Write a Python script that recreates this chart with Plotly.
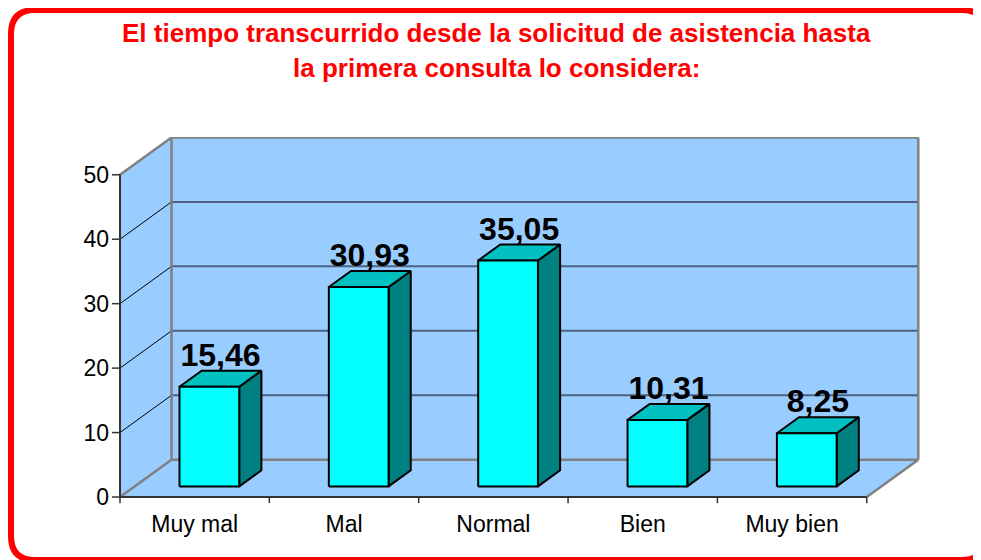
import plotly.graph_objects as go

# ---------------- data ----------------
categories = ["Muy mal", "Mal", "Normal", "Bien", "Muy bien"]
values = [15.46, 30.93, 35.05, 10.31, 8.25]
value_labels = ["15,46", "30,93", "35,05", "10,31", "8,25"]
y_ticks = [0, 10, 20, 30, 40, 50]
y_top = 50
title_lines = ["El tiempo transcurrido desde la solicitud de asistencia hasta",
               "la primera consulta lo considera:"]

# ---------------- style / geometry ----------------
OFF = 8                       # page body margin
W, H = 981 - OFF, 560 - OFF
ML, MT = 112 - OFF, 137 - OFF
PW, PH = 808, 370
MR, MB = W - ML - PW, H - MT - PH
XR = [-0.0536, 5.3565]
YR = [-1.55, 55.86]
DX, DY = 0.345, 5.79          # full depth offset in axis units
F0, F1 = 0.285, 0.715         # bar depth position
BW = 0.4                      # bar width (category units)
LABEL_DROP = 0.5              # label offset (axis units)
WALL = "#99CCFF"
GRID = "#4d6282"
EDGE = "#808080"
FRONT, TOP, SIDE = "#00FFFF", "#00C0C0", "#008080"
FONT = "Liberation Sans, Arial, sans-serif"
N = len(categories)


def P(x, y, d):
    return x + d * DX, y + d * DY


def poly(pts, fill, line_color=None, line_width=0):
    xs = [p[0] for p in pts] + [pts[0][0]]
    ys = [p[1] for p in pts] + [pts[0][1]]
    return go.Scatter(x=xs, y=ys, mode="lines", fill="toself", fillcolor=fill,
                      line=dict(color=line_color or fill, width=line_width),
                      hoverinfo="skip", showlegend=False)


def segs(pairs, color, width):
    xs, ys = [], []
    for a, b in pairs:
        xs += [a[0], b[0], None]
        ys += [a[1], b[1], None]
    return go.Scatter(x=xs, y=ys, mode="lines", line=dict(color=color, width=width),
                      hoverinfo="skip", showlegend=False)


fig = go.Figure()

# walls and floor
fig.add_trace(poly([P(0, 0, 0), P(0, y_top, 0), P(0, y_top, 1), P(0, 0, 1)], WALL))
fig.add_trace(poly([P(0, 0, 0), P(N, 0, 0), P(N, 0, 1), P(0, 0, 1)], WALL))
fig.add_trace(poly([P(0, 0, 1), P(N, 0, 1), P(N, y_top, 1), P(0, y_top, 1)], WALL))

inner = [v for v in y_ticks if 0 < v < y_top]
# back wall gridlines
fig.add_trace(segs([(P(0, v, 1), P(N, v, 1)) for v in inner], GRID, 2))
# side wall diagonals
fig.add_trace(segs([(P(0, v, 0), P(0, v, 1)) for v in inner], "#000000", 1))
# gray edges
fig.add_trace(segs([
    (P(0, 0, 1), P(N, 0, 1)), (P(N, 0, 1), P(N, y_top, 1)),
    (P(N, y_top, 1), P(0, y_top, 1)), (P(0, y_top, 1), P(0, 0, 1)),
    (P(0, y_top, 0), P(0, y_top, 1)), (P(0, 0, 0), P(0, 0, 1)),
    (P(N, 0, 0), P(N, 0, 1)),
], EDGE, 2.5))

# front axes
fig.add_trace(segs([(P(0, 0, 0), P(0, y_top, 0)), (P(0, 0, 0), P(N, 0, 0))], "#333333", 2))
tick_len_x = XR[0]
tick_len_y = -0.95
fig.add_trace(segs([((tick_len_x, v), (0, v)) for v in y_ticks], "#333333", 1.5))
fig.add_trace(segs([((k, 0), (k, tick_len_y)) for k in range(N + 1)], "#333333", 1.5))

# bars
for i, v in enumerate(values):
    x0 = i + 0.5 - BW / 2
    x1 = i + 0.5 + BW / 2
    fig.add_trace(poly([P(x1, 0, F0), P(x1, 0, F1), P(x1, v, F1), P(x1, v, F0)], SIDE, "#000000", 2))
    fig.add_trace(poly([P(x0, v, F0), P(x1, v, F0), P(x1, v, F1), P(x0, v, F1)], TOP, "#000000", 2))
    fig.add_trace(poly([P(x0, 0, F0), P(x1, 0, F0), P(x1, v, F0), P(x0, v, F0)], FRONT, "#000000", 2))

# value labels
lab = [P(i + 0.5, v, (F0 + F1) / 2) for i, v in enumerate(values)]
fig.add_trace(go.Scatter(
    x=[p[0] for p in lab], y=[v + F1 * DY - LABEL_DROP for v in values],
    mode="text", text=value_labels, textposition="top center",
    textfont=dict(family=FONT, size=32, color="#000000"),
    texttemplate="<b>%{text}</b>", cliponaxis=False,
    hoverinfo="skip", showlegend=False))


# frame (decorative), coordinates given in page pixels
def px(xp):
    return (xp - OFF - ML) / PW


def py(yp):
    return (H - MB - (yp - OFF)) / PH


L_, T_, R_, B_, r = 11, 10, 986, 560, 24
path = (f"M {px(L_ + r)},{py(T_)} L {px(R_ - r)},{py(T_)} Q {px(R_)},{py(T_)} {px(R_)},{py(T_ + r)} "
        f"L {px(R_)},{py(B_ - r)} Q {px(R_)},{py(B_)} {px(R_ - r)},{py(B_)} "
        f"L {px(L_ + r)},{py(B_)} Q {px(L_)},{py(B_)} {px(L_)},{py(B_ - r)} "
        f"L {px(L_)},{py(T_ + r)} Q {px(L_)},{py(T_)} {px(L_ + r)},{py(T_)} Z")
fig.add_shape(type="path", path=path, xref="paper", yref="paper",
              line=dict(color="#FF0000", width=6))

# title
for txt, ypix in zip(title_lines, [33, 68]):
    fig.add_annotation(x=px(496), y=py(ypix), xref="paper", yref="paper",
                       text=f"<b>{txt}</b>", showarrow=False,
                       xanchor="center", yanchor="middle",
                       font=dict(family=FONT, size=26, color="#FF0000"))

fig.update_layout(
    width=W, height=H,
    margin=dict(l=ML, r=MR, t=MT, b=MB),
    paper_bgcolor="white", plot_bgcolor="white",
    xaxis=dict(range=XR, showgrid=False, zeroline=False, showline=False,
               tickmode="array", tickvals=[i + 0.5 for i in range(N)], ticktext=categories,
               ticks="", tickfont=dict(family=FONT, size=23, color="#000000"),
               ticklabelstandoff=1, fixedrange=True),
    yaxis=dict(range=YR, showgrid=False, zeroline=False, showline=False,
               tickmode="array", tickvals=y_ticks, ticks="",
               tickfont=dict(family=FONT, size=23, color="#000000"),
               ticklabelstandoff=2, fixedrange=True),
)

fig.write_html("out.html")
